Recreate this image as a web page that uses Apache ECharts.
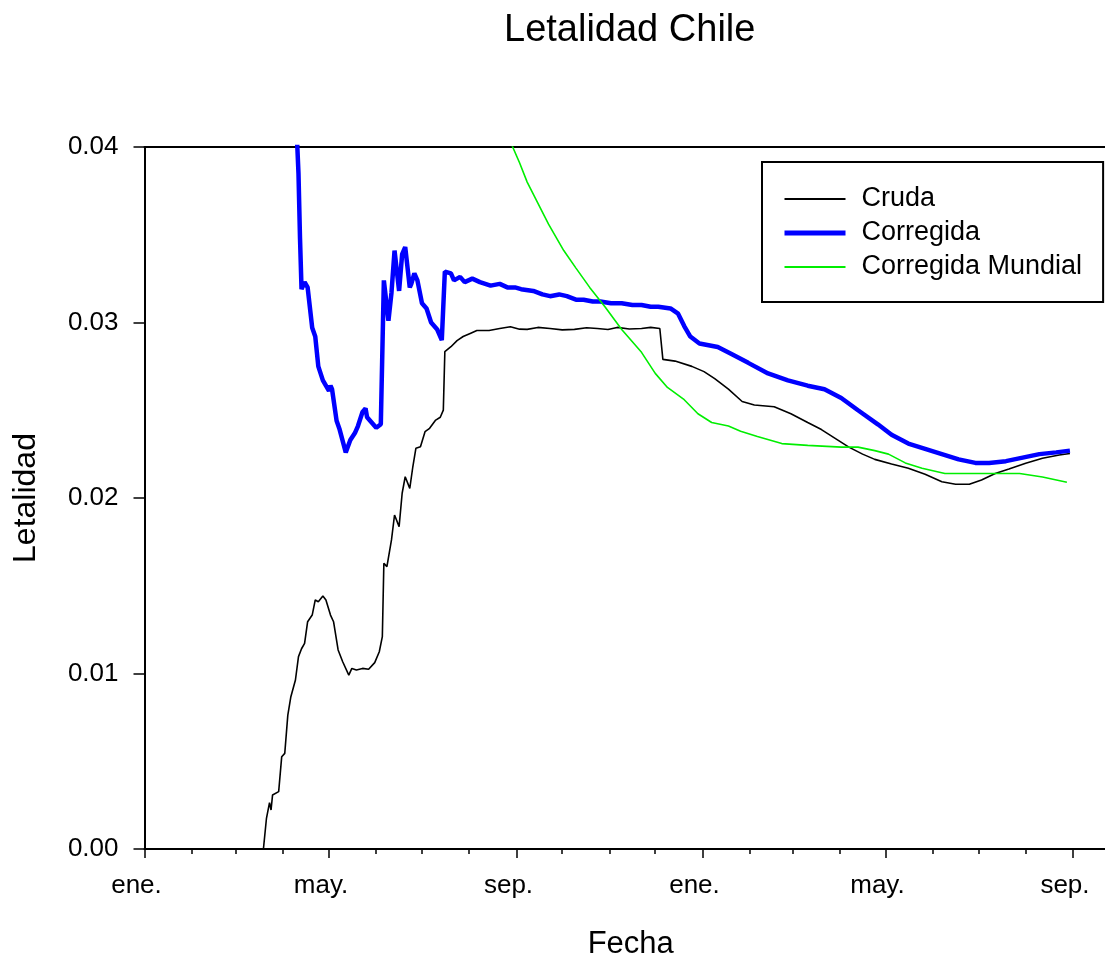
<!DOCTYPE html>
<html>
<head>
<meta charset="utf-8">
<title>Letalidad Chile</title>
<script src="https://cdn.jsdelivr.net/npm/echarts@6/dist/echarts.min.js"></script>
<style>
  html, body { margin: 0; padding: 0; background: #ffffff; }
  #main { width: 1105px; height: 962px; }
</style>
</head>
<body>
<div id="main"></div>
<script>
// dias desde el 1 de enero de 2020
var crudaDias = [78, 80, 81, 82, 83, 84, 88, 90, 92, 94, 96, 99, 101, 103, 105, 107, 110, 112, 114, 117, 119, 122, 124, 127, 130, 134, 136, 139, 143, 147, 151, 154, 156,
  157, 159, 162, 164, 167, 169, 171, 174, 176, 178, 181, 184, 187, 191, 194, 196, 197, 201, 205, 209, 214, 218, 226, 233, 240, 246, 251, 258, 266, 274, 282, 290, 297, 304, 310, 318, 326, 332, 338,
  340, 348, 359, 367, 374, 383, 392, 400, 413, 424, 435, 444, 453, 462, 471, 479, 490, 501, 512, 523, 532, 541, 549, 558, 567, 578, 589, 600, 607];
var crudaVals = [0, 0.00175, 0.00172, 0.00264, 0.00222, 0.00308, 0.00327, 0.00526, 0.00545, 0.00763, 0.00868, 0.00963, 0.01096, 0.01141, 0.01172, 0.01295, 0.01333, 0.01419, 0.01409, 0.01442, 0.01419, 0.01333, 0.01295, 0.01134, 0.01067, 0.00991, 0.01029, 0.01020, 0.01029, 0.01024, 0.01062, 0.01124, 0.01210,
  0.01628, 0.01609, 0.01761, 0.01903, 0.01837, 0.02027, 0.02121, 0.02055, 0.02178, 0.02283, 0.02292, 0.02378, 0.02397, 0.02444, 0.02460, 0.02501, 0.02834, 0.02862, 0.02897, 0.02920, 0.02939, 0.02954, 0.02954, 0.02966, 0.02976, 0.02962, 0.02961, 0.02972, 0.02966, 0.02958, 0.02961, 0.02970, 0.02966, 0.02960, 0.02972, 0.02963, 0.02966, 0.02972, 0.02966,
  0.02790, 0.02780, 0.02750, 0.02720, 0.02680, 0.02620, 0.02550, 0.02530, 0.02520, 0.02480, 0.02430, 0.02390, 0.02340, 0.02290, 0.02250, 0.02220, 0.02194, 0.02169, 0.02135, 0.02093, 0.02078, 0.02078, 0.02103, 0.02140, 0.02165, 0.02198, 0.02226, 0.02245, 0.02254];

var corregidaDias = [100, 101, 102, 103, 105, 107, 110, 112, 114, 117, 119, 121, 122, 123, 126, 128, 132, 135, 138, 140, 143, 145, 146, 149, 152, 155, 156,
  157, 160, 162, 164, 167, 169, 171, 174, 175, 177, 179, 182, 185, 188, 192, 195, 196, 197, 201, 203, 207, 210, 215, 220, 227, 233, 238, 243, 247, 255, 261, 266, 272, 277, 283, 288, 294, 299, 306, 313, 320, 326, 332, 337, 345,
  350, 354, 358, 364, 376, 385, 396, 409, 422, 435, 446, 457, 468, 481, 490, 501, 512, 523, 534, 545, 554, 565, 576, 587, 598, 607];
var corregidaVals = [0.0405, 0.0385, 0.0348, 0.0319, 0.0323, 0.0320, 0.0297, 0.0292, 0.0275, 0.0267, 0.0264, 0.0261, 0.0264, 0.0262, 0.0244, 0.0239, 0.0226, 0.0233, 0.0237, 0.0241, 0.0249, 0.0251, 0.0246, 0.0243, 0.0240, 0.0242, 0.0242,
  0.0324, 0.0301, 0.0317, 0.0341, 0.0318, 0.0339, 0.0343, 0.0320, 0.0322, 0.0328, 0.0324, 0.0311, 0.0308, 0.0300, 0.0296, 0.0290, 0.0290, 0.0329, 0.0328, 0.0324, 0.0326, 0.0323, 0.0325, 0.0323, 0.0321, 0.0322, 0.0320, 0.0320, 0.0319, 0.0318, 0.0316, 0.0315, 0.0316, 0.0315, 0.0313, 0.0313, 0.0312, 0.0312, 0.0311, 0.0311, 0.0310, 0.0310, 0.0309, 0.0309, 0.0308,
  0.0305, 0.0298, 0.0292, 0.0288, 0.0286, 0.0282, 0.0277, 0.0271, 0.0267, 0.0264, 0.0262, 0.0257, 0.0250, 0.0242, 0.0236, 0.0231, 0.0228, 0.0225, 0.0222, 0.0220, 0.0220, 0.0221, 0.0223, 0.0225, 0.0226, 0.0227];

var mundialDias = [240, 246, 251, 258, 265, 275, 283, 292, 302, 313, 326, 335, 343, 354, 363, 372, 383, 391, 402, 418, 435, 457, 468, 479, 488, 499, 510, 525, 541, 556, 574, 589, 605];
var mundialVals = [0.0403, 0.0391, 0.0380, 0.0368, 0.0356, 0.0341, 0.0331, 0.0320, 0.0309, 0.0296, 0.0283, 0.0271, 0.0263, 0.0256, 0.0248, 0.0243, 0.0241, 0.0238, 0.0235, 0.0231, 0.0230, 0.0229, 0.0229, 0.0227, 0.0225, 0.0220, 0.0217, 0.0214, 0.0214, 0.0214, 0.0214, 0.0212, 0.0209];

var nombresMes = ['ene.', 'feb.', 'mar.', 'abr.', 'may.', 'jun.', 'jul.', 'ago.', 'sep.', 'oct.', 'nov.', 'dic.'];
var mesesMayores = [[2020, 0], [2020, 4], [2020, 8], [2021, 0], [2021, 4], [2021, 8]];

var DIA = 86400000;
var t0 = new Date(2020, 0, 1).getTime();
var tFin = t0 + 630 * DIA;
var fuente = 'Liberation Sans, Arial, Helvetica, sans-serif';

function serie(dias, vals) {
  return dias.map(function (d, i) { return [t0 + d * DIA, vals[i]]; });
}

var ticksMayores = mesesMayores.map(function (m) { return new Date(m[0], m[1], 1).getTime(); });
var ticksMenores = [];
for (var y = 2020; y <= 2021; y++) {
  for (var m = 0; m < 12; m++) {
    var t = new Date(y, m, 1).getTime();
    if (t <= tFin) ticksMenores.push(t);
  }
}

var sinSimbolo = { color: 'rgba(0,0,0,0)', borderColor: 'rgba(0,0,0,0)', borderWidth: 0 };

var myChart = echarts.init(document.getElementById('main'));
myChart.setOption({
  backgroundColor: '#ffffff',
  animation: false,
  title: {
    text: 'Letalidad Chile',
    left: 499,
    top: 7,
    textStyle: { fontFamily: fuente, fontSize: 38, fontWeight: 'normal', color: '#000' }
  },
  legend: {
    orient: 'vertical',
    left: 762,
    top: 162,
    padding: [22, 21, 20, 20],
    borderColor: '#000',
    borderWidth: 2,
    itemWidth: 61,
    itemHeight: 14,
    itemGap: 4,
    selectedMode: false,
    itemStyle: sinSimbolo,
    textStyle: { fontFamily: fuente, fontSize: 27, color: '#000', lineHeight: 30, padding: [0, 0, 0, 11] },
    data: [
      { name: 'Cruda', itemStyle: sinSimbolo, lineStyle: { color: '#000000', width: 2 } },
      { name: 'Corregida', itemStyle: sinSimbolo, lineStyle: { color: '#0000ff', width: 5 } },
      { name: 'Corregida Mundial', itemStyle: sinSimbolo, lineStyle: { color: '#00ee00', width: 2 } }
    ]
  },
  grid: { left: 144.5, right: 0, top: 147, bottom: 113, outerBoundsMode: 'none' },
  xAxis: [
    {
      type: 'value',
      min: t0,
      max: tFin,
      position: 'bottom',
      name: 'Fecha',
      nameLocation: 'middle',
      nameGap: 80,
      nameTextStyle: { fontFamily: fuente, fontSize: 31, color: '#000', padding: [0, 0, 0, 12] },
      axisLine: { lineStyle: { color: '#000', width: 2 } },
      axisTick: { customValues: ticksMayores, length: 9, lineStyle: { color: '#000', width: 1.5 } },
      axisLabel: {
        customValues: ticksMayores,
        margin: 24,
        padding: [0, 16, 0, 0],
        fontFamily: fuente,
        fontSize: 26,
        color: '#000',
        formatter: function (v) { return nombresMes[new Date(v).getMonth()]; }
      },
      splitLine: { show: false }
    },
    {
      type: 'value',
      min: t0,
      max: tFin,
      position: 'bottom',
      axisLine: { show: false },
      axisTick: { customValues: ticksMenores, length: 5, lineStyle: { color: '#000', width: 1.5 } },
      axisLabel: { show: false },
      splitLine: { show: false }
    },
    {
      type: 'value',
      min: 0,
      max: 1,
      position: 'top',
      axisLine: { lineStyle: { color: '#000', width: 2 } },
      axisTick: { show: false },
      axisLabel: { show: false },
      splitLine: { show: false }
    }
  ],
  yAxis: {
    type: 'value',
    min: 0,
    max: 0.04,
    interval: 0.01,
    name: 'Letalidad',
    nameLocation: 'middle',
    nameGap: 102,
    nameTextStyle: { fontFamily: fuente, fontSize: 32, color: '#000' },
    axisLine: { show: true, lineStyle: { color: '#000', width: 2 } },
    axisTick: { show: true, length: 11, lineStyle: { color: '#000', width: 1.5 } },
    axisLabel: {
      margin: 26,
      fontFamily: fuente,
      fontSize: 26,
      color: '#000',
      formatter: function (v) { return v.toFixed(2); }
    },
    splitLine: { show: false }
  },
  series: [
    {
      name: 'Cruda',
      type: 'line',
      xAxisIndex: 0,
      symbol: 'none',
      lineStyle: { color: '#000000', width: 1.6 },
      itemStyle: { color: '#000000' },
      data: serie(crudaDias, crudaVals)
    },
    {
      name: 'Corregida',
      type: 'line',
      xAxisIndex: 0,
      symbol: 'none',
      lineStyle: { color: '#0000ff', width: 4.5 },
      itemStyle: { color: '#0000ff' },
      data: serie(corregidaDias, corregidaVals)
    },
    {
      name: 'Corregida Mundial',
      type: 'line',
      xAxisIndex: 0,
      symbol: 'none',
      lineStyle: { color: '#00ee00', width: 1.6 },
      itemStyle: { color: '#00ee00' },
      data: serie(mundialDias, mundialVals)
    }
  ]
});
</script>
</body>
</html>
